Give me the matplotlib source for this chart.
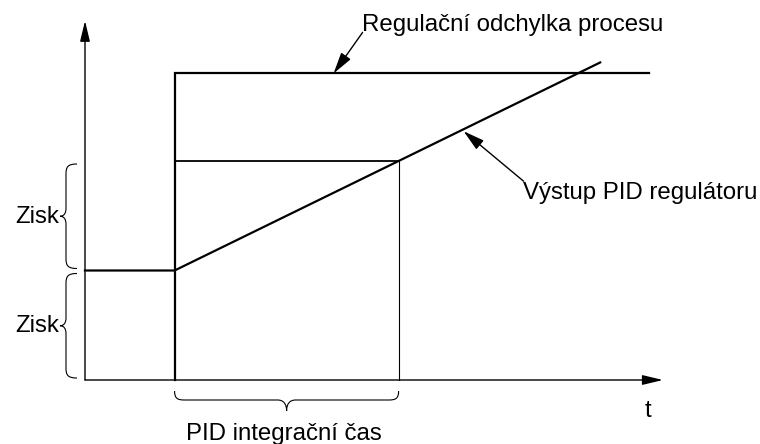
import numpy as np
import matplotlib
matplotlib.use("Agg")
import matplotlib.pyplot as plt
from matplotlib.path import Path
from matplotlib.patches import PathPatch

plt.rcParams['font.family'] = ['Liberation Sans', 'DejaVu Sans']

# ---- data (time units / signal units) ----
t_step = 4.0          # time of the step in process deviation
Ti = 10.0             # PID integral time
gain = 1.0            # proportional jump (Zisk)
deviation = 2.8       # process deviation level after the step
t_dev_end = 25.2      # end of drawn deviation line
t_ramp_end = 23.0     # end of drawn output ramp
t_axis_end = 25.8     # x-axis arrow tip
v_axis_end = 3.28     # y-axis arrow tip

out_t = [0.0, t_step, t_ramp_end]
out_v = [gain, gain, gain + gain * (t_ramp_end - t_step) / Ti]
dev_t = [t_step, t_step, t_dev_end]
dev_v = [0.0, deviation, deviation]

labels = {
    "dev": "Regulační odchylka procesu",
    "out": "Výstup PID regulátoru",
    "gain": "Zisk",
    "ti": "PID integrační čas",
    "t": "t",
}

# ---- figure in data coordinates ----
W, H = 760, 444
px_x = 22.4     # pixels per time unit
px_y = 109.5    # pixels per signal unit
x0_px, y0_px = 85, 380

fig = plt.figure(figsize=(W / 100, H / 100), dpi=100)
ax = fig.add_axes([0, 0, 1, 1])
ax.set_xlim(-x0_px / px_x, (W - x0_px) / px_x)
ax.set_ylim((y0_px - H) / px_y, y0_px / px_y)
ax.axis('off')

dx = 1 / px_x
dy = 1 / px_y
FS = 17.3

thick = 1.6
thin = 0.8

# axes with arrows
arrow_axis = dict(arrowstyle='-|>,head_length=1.25,head_width=0.3', lw=1.0,
                  color='black', shrinkA=0, shrinkB=0, mutation_scale=10)
ax.annotate('', xy=(0, v_axis_end), xytext=(0, 0), arrowprops=arrow_axis)
ax.annotate('', xy=(t_axis_end, 0), xytext=(0, 0), arrowprops=arrow_axis)

# process deviation (step)
ax.plot(dev_t, dev_v, color='black', lw=thick, solid_joinstyle='miter')
# PID output
ax.plot(out_t, out_v, color='black', lw=thick, solid_joinstyle='miter')
# integral time construction
v_Ti = gain + gain
ax.plot([t_step, t_step + Ti], [v_Ti, v_Ti], color='black', lw=1.3)
ax.plot([t_step + Ti, t_step + Ti], [0, v_Ti], color='black', lw=thin)

C4 = Path.CURVE4


def brace_path(a, b, e, s, tip, re, rt):
    """Brace along coordinate u from a to b; across coordinate: ends e,
    spine s, tip tip. Returns (u, w) vertices and codes."""
    m = (a + b) / 2
    d = tip - s
    verts = [
        (a, e), (a, s - 0.15 * (s - e)), (a + 0.3 * re, s), (a + re, s),
        (m - rt, s),
        (m - 0.35 * rt, s), (m, s + 0.35 * d), (m, tip),
        (m, s + 0.35 * d), (m + 0.35 * rt, s), (m + rt, s),
        (b - re, s),
        (b - 0.3 * re, s), (b, s - 0.15 * (s - e)), (b, e),
    ]
    codes = [Path.MOVETO, C4, C4, C4, Path.LINETO, C4, C4, C4,
             C4, C4, C4, Path.LINETO, C4, C4, C4]
    return verts, codes


def brace_vertical(x_end, x_sp, x_tip, ya, yb, re, rt):
    v, c = brace_path(ya, yb, x_end, x_sp, x_tip, re, rt)
    verts = [(w, u) for u, w in v]
    ax.add_patch(PathPatch(Path(verts, c), fc='none', ec='black', lw=0.8))


def brace_horizontal(y_end, y_sp, y_tip, xa, xb, re, rt):
    v, c = brace_path(xa, xb, y_end, y_sp, y_tip, re, rt)
    ax.add_patch(PathPatch(Path(v, c), fc='none', ec='black', lw=0.8))


# gain braces on the left
for lo, hi in [(0.0, gain), (gain, 2 * gain)]:
    brace_vertical(-8 * dx, -19 * dx, -25 * dx, lo + 2 * dy, hi - 3 * dy,
                   10 * dy, 8 * dy)
    ax.text(-26 * dx, (lo + hi) / 2 - 7 * dy, labels["gain"], ha='right',
            va='baseline', fontsize=FS)

# integral-time brace at the bottom
brace_horizontal(-11 * dy, -20 * dy, -31 * dy, t_step, t_step + Ti,
                 10 * dx, 9 * dx)
ax.text(t_step + Ti / 2 - 3 * dx, -59.5 * dy, labels["ti"], ha='center',
        va='baseline', fontsize=FS)

# t label
ax.text(t_axis_end - 15 * dx, -37 * dy, labels["t"], ha='center',
        va='baseline', fontsize=FS)

# annotations
arrow_ann = dict(arrowstyle='-|>,head_length=1.3,head_width=0.35', lw=1.0,
                 color='black', shrinkA=0, shrinkB=0, mutation_scale=10)
ax.annotate('', xy=(t_step + 159 * dx, deviation),
            xytext=(t_step + 188 * dx, deviation + 41 * dy),
            arrowprops=arrow_ann)
ax.text(t_step + 187 * dx, deviation + 42 * dy, labels["dev"], ha='left',
        va='baseline', fontsize=FS)

t_a = t_step + 289 * dx
v_a = gain + gain * (t_a - t_step) / Ti
ax.annotate('', xy=(t_a, v_a - 2 * dy), xytext=(t_a + 60 * dx, v_a - 52 * dy),
            arrowprops=arrow_ann)
ax.text(t_a + 59 * dx, v_a - 70 * dy, labels["out"], ha='left',
        va='baseline', fontsize=FS)

fig.savefig('out.png', dpi=100)
